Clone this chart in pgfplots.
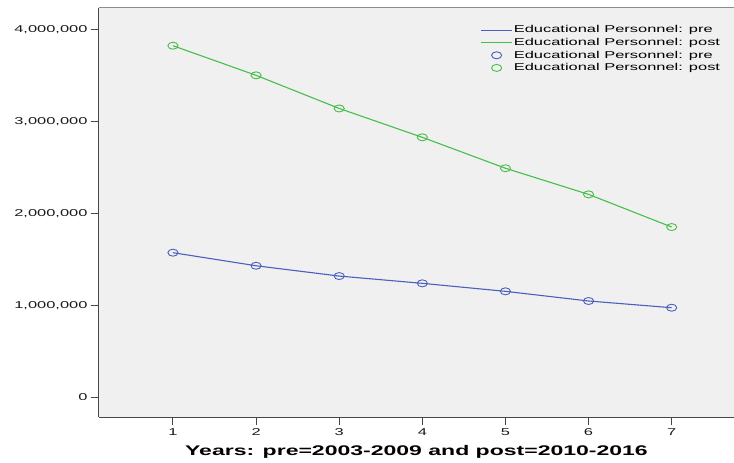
\documentclass[border=0pt]{standalone}
\usepackage{pgfplots}
\pgfplotsset{compat=1.18}
\usepackage{fontspec}
\setmainfont{Liberation Sans}[FakeStretch=1.65]
\definecolor{bg}{RGB}{240,240,240}
\definecolor{spssblue}{RGB}{75,95,190}
\definecolor{spssgreen}{RGB}{70,190,75}
\definecolor{framec}{RGB}{70,70,70}
\pgfplotstableread{
x y
1 1572000
2 1430000
3 1318000
4 1239000
5 1152000
6 1047000
7 974000
}\pre
\pgfplotstableread{
x y
1 3822000
2 3500000
3 3140000
4 2826000
5 2490000
6 2206000
7 1851000
}\post
\begin{document}
\begin{tikzpicture}
\begin{axis}[
  scale only axis, width=635bp, height=409bp,
  xmin=0.11, xmax=7.75, ymin=-214000, ymax=4232000,
  axis x line*=bottom, axis y line*=left,
  axis line style={framec, line width=1bp},
  axis background/.style={fill=bg},
  xtick={1,2,3,4,5,6,7},
  ytick={0,1000000,2000000,3000000,4000000},
  scaled y ticks=false,
  /pgf/number format/.cd, fixed, 1000 sep={,}, assume math mode=true,
  /pgfplots/.cd,
  tick label style={font=\fontsize{10}{12}\selectfont, text=black!90},
  tick align=outside, major tick length=8bp,
  tick style={framec, line width=1bp},
  xlabel={Years: pre=2003-2009 and post=2010-2016},
  xlabel style={font=\fontsize{14}{16}\selectfont\bfseries, yshift=-3bp},
  legend style={draw=none, fill=none, at={(0.985,0.965)}, anchor=north east,
    font=\fontsize{10}{11}\selectfont, row sep=1.5bp, nodes={inner sep=1.2bp}},
  legend cell align=left,
  legend image code/.code={\draw[mark repeat=2,mark phase=2,#1] plot coordinates {(0bp,0bp) (15.5bp,0bp) (31bp,0bp)};},
]
\addplot[spssblue, line width=1.1bp, no marks] table[x=x,y=y] {\pre};
\addlegendentry{Educational Personnel: pre}
\addplot[spssgreen, line width=1.1bp, no marks] table[x=x,y=y] {\post};
\addlegendentry{Educational Personnel: post}
\addplot[spssblue, only marks, mark=o, mark size=3.5bp, mark options={xscale=1.45, line width=0.9bp}] table[x=x,y=y] {\pre};
\addlegendentry{Educational Personnel: pre}
\addplot[spssgreen, only marks, mark=o, mark size=3.5bp, mark options={xscale=1.45, line width=0.9bp}] table[x=x,y=y] {\post};
\addlegendentry{Educational Personnel: post}
\draw[black!45, line width=1bp] (rel axis cs:0,1) -- (rel axis cs:1,1);
\end{axis}
\pgfresetboundingbox
\useasboundingbox ([xshift=-99bp,yshift=-46bp]current axis.south west) rectangle ([yshift=8bp]current axis.north east);
\end{tikzpicture}
\end{document}
